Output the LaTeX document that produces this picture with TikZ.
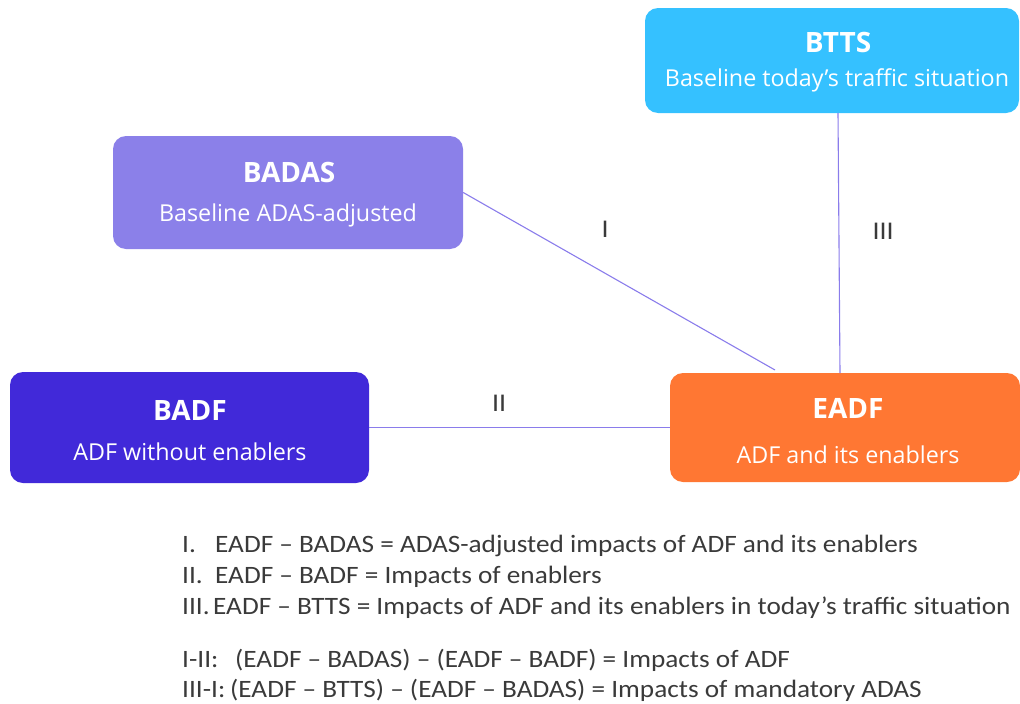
\documentclass[tikz,border=0pt]{standalone}
\usepackage{fontspec}
\setmainfont{Open Sans}
\newfontfamily\notefont[FakeStretch=1.09]{Carlito}
\definecolor{bttsblue}{HTML}{35C1FF}
\definecolor{badaslav}{HTML}{8B80E9}
\definecolor{badfblue}{HTML}{4129D9}
\definecolor{eadforange}{HTML}{FF7733}
\definecolor{linklav}{HTML}{8A7CEB}
\definecolor{notegray}{HTML}{3A3A3A}
\begin{document}
\begin{tikzpicture}[x=1pt,y=-1pt,
  box/.style={rounded corners=13pt, draw=none},
  title/.style={text=white, font=\fontsize{28}{32}\selectfont\bfseries},
  sub/.style={text=white, font=\fontsize{23.3}{27}\selectfont},
  link/.style={draw=linklav, line width=1.1pt},
  roman/.style={text=notegray, font=\notefont\fontsize{25.5}{29}\selectfont},
  note/.style={anchor=base west, text=notegray, font=\notefont\fontsize{25}{29}\selectfont, inner sep=0pt}]
\useasboundingbox (0,0) rectangle (1020,704);

% boxes
\fill[box, bttsblue] (645,8) rectangle (1019,113);
\node (btts) at (832,60.5) [minimum width=374pt, minimum height=105pt, inner sep=0pt] {};
\node[title] (bttsT) at (838,42) {BTTS};
\node[sub] (bttsS) at (837,80) {Baseline today’s traffic situation};

\fill[box, badaslav] (113,136) rectangle (463,249);
\node (badas) at (288,192.5) [minimum width=350pt, minimum height=113pt, inner sep=0pt] {};
\node[title] (badasT) at (289,172) {BADAS};
\node[sub] (badasS) at (288,215) {Baseline ADAS-adjusted};

\fill[box, badfblue] (10,372) rectangle (369,483);
\node (badf) at (189.5,427.5) [minimum width=359pt, minimum height=111pt, inner sep=0pt] {};
\node[title] (badfT) at (190,410) {BADF};
\node[sub] (badfS) at (190,452) {ADF without enablers};

\fill[box, eadforange] (670,373) rectangle (1020,482);
\node (eadf) at (845,427.5) [minimum width=350pt, minimum height=109pt, inner sep=0pt] {};
\node[title] (eadfT) at (848,408) {EADF};
\node[sub] (eadfS) at (848,455) {ADF and its enablers};

% connectors
\coordinate (eadfI) at (775,370);
\coordinate (eadfIII) at (840,373);
\coordinate (bttsIII) at (838,113);
\draw[link] (badas.east) -- (eadfI);
\draw[link] (bttsIII) -- (eadfIII);
\draw[link] (badf.east) -- (eadf.west);

% connector labels
\node[roman] (lI) at (605,229) {I};
\node[roman] (lIII) at (883,231) {III};
\node[roman] (lII) at (499,403) {II};

% legend
\node[note] (n1) at (182,552) {I.};
\node[note] (n1b) at (215,552) {EADF – BADAS = ADAS-adjusted impacts of ADF and its enablers};
\node[note] (n2) at (182,583) {II.};
\node[note] (n2b) at (215,583) {EADF – BADF = Impacts of enablers};
\node[note] (n3) at (182,614) {III.};
\node[note] (n3b) at (213,614) {EADF – BTTS = Impacts of ADF and its enablers in today’s traffic situation};
\node[note] (n4) at (182,667) {I-II:};
\node[note] (n4b) at (235,667) {(EADF – BADAS) – (EADF – BADF) = Impacts of ADF};
\node[note] (n5) at (182,697) {III-I:};
\node[note] (n5b) at (230,697) {(EADF – BTTS) – (EADF – BADAS) = Impacts of mandatory ADAS};
\end{tikzpicture}
\end{document}
